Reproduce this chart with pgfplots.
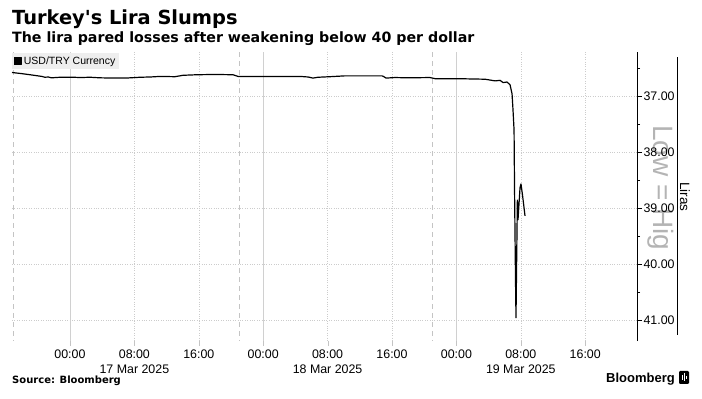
\documentclass[border=0pt]{standalone}
\usepackage{pgfplots}
\pgfplotsset{compat=1.18}
\usepackage{pgfplotstable}
\usepackage{fontspec}
\setmainfont{Liberation Sans}
\newfontfamily\titlefont{DejaVu Sans}
\definecolor{gridgray}{HTML}{CCCCCC}
\definecolor{solidgray}{HTML}{D0D0D0}
\definecolor{dashgray}{HTML}{C4C4C4}
\definecolor{wmgray}{HTML}{B4B4B4}
\definecolor{legfill}{HTML}{EEEEEE}
\pgfplotstableread{
h v
-7.20 36.58
-6.00 36.60
-4.97 36.62
-3.50 36.65
-3.11 36.665
-2.70 36.66
-2.30 36.675
-1.24 36.665
0.50 36.665
1.24 36.67
2.50 36.665
3.73 36.675
5.50 36.68
6.83 36.68
7.50 36.675
8.70 36.665
10.00 36.66
11.18 36.65
13.04 36.655
14.04 36.63
15.78 36.62
18.00 36.615
20.25 36.62
20.87 36.65
23.60 36.65
26.00 36.65
28.57 36.65
29.57 36.66
30.19 36.68
30.80 36.665
32.30 36.655
34.16 36.64
36.00 36.64
38.76 36.64
39.00 36.655
39.25 36.68
40.37 36.67
42.00 36.675
44.72 36.67
45.34 36.69
48.00 36.69
51.55 36.70
52.80 36.73
53.42 36.72
53.79 36.76
54.29 36.75
54.66 36.80
54.91 36.96
55.03 37.25
55.16 37.61
55.22 38.68
55.34 40.29
55.40 40.96
55.57 38.86
55.65 39.21
55.90 38.64
56.02 38.57
56.21 38.77
56.52 39.14
}\lira
\begin{document}
\begin{tikzpicture}[x=1pt,y=1pt]
\path[use as bounding box] (0,0) rectangle (702,399);
\node[anchor=base west, inner sep=0, font=\titlefont\bfseries\fontsize{19.4}{22}\selectfont] at (12,374) {Turkey's Lira Slumps};
\node[anchor=base west, inner sep=0, font=\titlefont\bfseries\fontsize{14.2}{16}\selectfont] at (12,356.5) {The lira pared losses after weakening below 40 per dollar};
\begin{scope}
\clip (640,149) rectangle (676,285);
\node[anchor=west, rotate=-90, inner sep=0, text=wmgray, font=\fontsize{28}{30}\selectfont] at (661,274) {Low = High};
\end{scope}
\begin{axis}[
  at={(12pt,58pt)}, anchor=south west,
  scale only axis, width=625pt, height=289pt,
  xmin=-7.2, xmax=70.43, ymin=36.214, ymax=41.375,
  y dir=reverse,
  axis line style={draw=none},
  /pgf/number format/assume math mode=true,
  xtick={0,8,16,24,32,40,48,56,64},
  xticklabels={00:00,{08:00\\17 Mar 2025},16:00,00:00,{08:00\\18 Mar 2025},16:00,00:00,{08:00\\19 Mar 2025},16:00},
  xticklabel style={align=center, font=\fontsize{12.4}{15}\selectfont},
  xtick pos=left,
  xtick style={draw=dashgray},
  ytick={37,38,39,40,41},
  minor ytick={36.5,37.5,38.5,39.5,40.5,41.5},
  ytick pos=right, yticklabel pos=right,
  ytick style={draw=black},
  minor tick length=3pt,
  yticklabel style={/pgf/number format/.cd, fixed, fixed zerofill, precision=2, /tikz/.cd, font=\fontsize{12.4}{14}\selectfont, xshift=-2pt},
  tick align=outside,
  major tick length=5pt,
  xmajorgrids, ymajorgrids,
  major grid style={gridgray, dotted, line width=0.5pt},
  legend style={at={(0,1)}, anchor=north west, draw=none, fill=legfill, font=\fontsize{10.5}{12}\selectfont, inner sep=1.5pt, yshift=-1pt, legend cell align=left},
  legend image code/.code={\fill[black] (0pt,-3.5pt) rectangle (7pt,3.5pt);},
  clip=false,
]
\draw[solidgray] (axis cs:0,36.214) -- (axis cs:0,41.375);
\draw[solidgray] (axis cs:24,36.214) -- (axis cs:24,41.375);
\draw[solidgray] (axis cs:48,36.214) -- (axis cs:48,41.375);
\draw[dashgray, dash pattern=on 5pt off 4pt] (axis cs:-7.1,36.214) -- (axis cs:-7.1,41.375);
\draw[dashgray, dash pattern=on 5pt off 4pt] (axis cs:21,36.214) -- (axis cs:21,41.375);
\draw[dashgray, dash pattern=on 5pt off 4pt] (axis cs:45,36.214) -- (axis cs:45,41.375);
\addplot[black, line width=1.2pt, line join=round] table[x=h, y=v] {\lira};
\addlegendentry{USD/TRY Currency}
\draw[black, line width=0.8pt] (axis description cs:1,0) -- (axis description cs:1,1);
\end{axis}
\draw[black, line width=0.8pt] (677,64) -- (677,342);
\node[rotate=-90, inner sep=0, font=\fontsize{13.5}{15}\selectfont] at (685,202) {Liras};
\node[anchor=base west, inner sep=0, font=\titlefont\bfseries\fontsize{10}{12}\selectfont] at (12,15) {Source: Bloomberg};
\node[anchor=base east, inner sep=0, font=\bfseries\fontsize{13}{15}\selectfont] at (675,16) {Bloomberg};
\fill[black, rounded corners=1.2pt] (679,15) rectangle (689,28);
\fill[white] (681.5,19) rectangle (682.5,24);
\fill[white] (683.5,18) rectangle (684.5,26);
\fill[white] (685.5,19.5) rectangle (686.5,23);
\end{tikzpicture}
\end{document}
